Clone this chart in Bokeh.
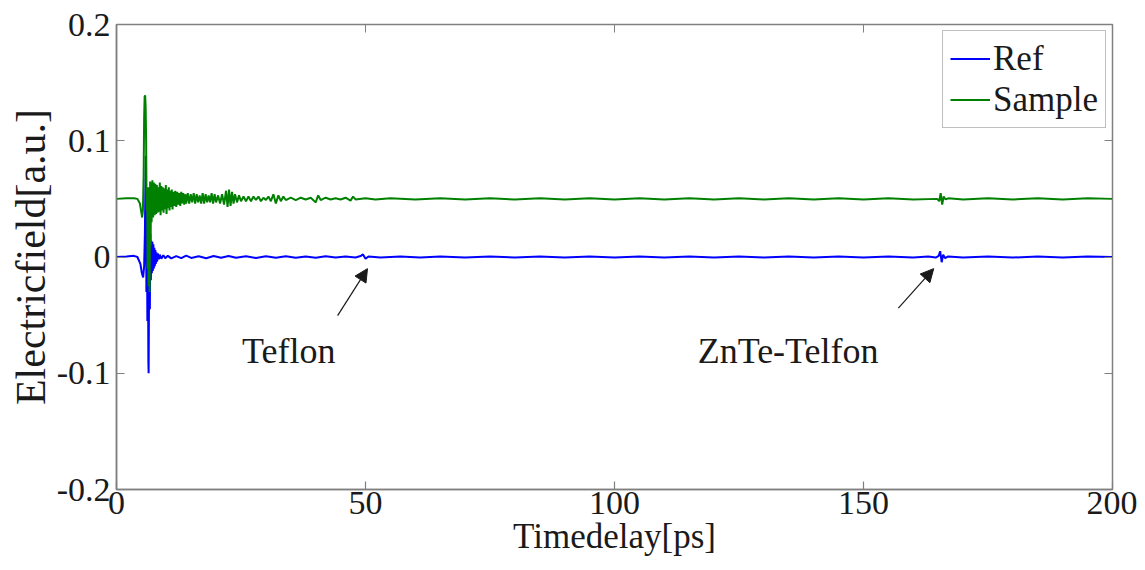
from bokeh.plotting import figure
from bokeh.models import Range1d, LinearAxis, FixedTicker, Label, Arrow, NormalHead
from bokeh.embed import file_html
from bokeh.resources import INLINE

# ---------------- data ----------------
ref_t = [0, 2, 3.5, 4.2, 4.8, 5.1, 5.35, 5.55, 5.7, 5.8, 5.9, 6.0, 6.1, 6.2, 6.3, 6.4, 6.45,
         6.5, 6.6, 6.7, 6.8, 6.9, 7.0, 7.1, 7.2, 7.3, 7.4, 7.5, 7.6, 7.7, 7.8, 7.9, 8.0, 8.15,
         8.3, 8.5, 8.7, 9.0, 9.4, 9.8, 10.3, 11, 12, 13, 14, 15, 16.5, 18, 19.5, 21, 22.5, 24,
         26, 28, 30, 32, 34, 36, 38, 40, 42, 44, 46, 48, 49, 49.5, 50, 50.6, 53, 57, 61, 65,
         70, 75, 80, 85, 90, 95, 100, 105, 110, 115, 120, 125, 130, 135, 140, 145, 150, 155,
         160, 163, 164.5, 165.1, 165.4, 165.7, 166.0, 166.4, 167, 170, 175, 180, 185, 190,
         195, 200]
ref_v = [0.0, 0.0005, 0.001, 0.0, -0.006, -0.014, -0.0175, -0.008, 0.02, 0.06, 0.087, -0.03,
         0.03, -0.055, 0.02, -0.09, -0.1, -0.06, 0.025, -0.045, 0.02, -0.02, 0.014, -0.014,
         0.013, -0.012, 0.011, -0.01, 0.008, -0.008, 0.006, -0.006, 0.004, -0.004, 0.003,
         -0.002, 0.002, -0.0015, 0.0015, -0.001, 0.001, -0.0012, 0.0008, -0.001, 0.0012,
         -0.0008, 0.0006, -0.001, 0.0008, -0.0006, 0.0009, -0.0007, 0.0006, -0.0008, 0.0007,
         -0.0006, 0.0006, -0.0007, 0.0005, -0.0006, 0.0006, -0.0005, 0.0005, -0.0004, 0.0008,
         0.0022, -0.0015, 0.0005, -0.0005, 0.0004, -0.0005, 0.0004, -0.0004, 0.0005, -0.0004,
         0.0004, -0.0005, 0.0004, -0.0004, 0.0005, -0.0004, 0.0004, -0.0005, 0.0004, -0.0004,
         0.0005, -0.0004, 0.0004, -0.0005, 0.0004, -0.0004, 0.0004, -0.0005, 0.001, 0.005,
         -0.0045, 0.002, -0.001, 0.0005, -0.0004, 0.0004, -0.0005, 0.0004, -0.0004, 0.0004,
         0.0]

smp_t = [0, 2, 3.5, 4.2, 4.7, 5.0, 5.15, 5.3, 5.45, 5.55, 5.65, 5.75, 5.85, 5.95, 6.05, 6.15,
         6.25, 6.35, 6.45, 6.55, 6.65, 6.75, 6.85, 6.95, 7.05, 7.2, 7.35, 7.5, 7.65, 7.8, 7.95,
         8.1, 8.25, 8.4, 8.55, 8.7, 8.85, 9.0, 9.15, 9.3, 9.45, 9.6, 9.75, 9.9, 10.05, 10.2,
         10.35, 10.5, 10.65, 10.8, 10.95, 11.1, 11.25, 11.4, 11.6, 11.8, 12.0, 12.2, 12.4,
         12.6, 12.8, 13.0, 13.2, 13.4, 13.6, 13.8, 14.0, 14.3, 14.6, 14.9, 15.2, 15.5, 15.8,
         16.1, 16.4, 16.7, 17.0, 17.3, 17.6, 17.9, 18.2, 18.5, 18.8, 19.1, 19.4, 19.7, 20.0,
         20.4, 20.8, 21.2, 21.6, 22.0, 22.3, 22.6, 22.9, 23.2, 23.5, 23.8, 24.2, 24.6, 25.0,
         25.5, 26.0, 26.5, 27.0, 27.5, 28.0, 28.5, 29.0, 29.5, 30.0, 30.5, 31.0, 31.5, 32.0,
         32.5, 33.0, 33.5, 34, 35, 36, 37, 38, 39, 40, 40.5, 41, 42, 43, 44, 45, 46, 47, 47.5,
         48, 50, 52, 55, 60, 65, 70, 75, 80, 85, 90, 95, 100, 105, 110, 115, 120, 125, 130,
         135, 140, 145, 150, 155, 160, 164.8, 165.2, 165.5, 165.8, 166.1, 166.5, 167, 170,
         175, 180, 185, 190, 195, 200]
smp_v = [0.05, 0.0505, 0.0505, 0.05, 0.046, 0.038, 0.034, 0.04, 0.07, 0.12, 0.138, 0.139,
         0.13, 0.10, 0.04, 0.06, -0.01, 0.055, -0.025, 0.06, -0.03, 0.065, 0.01, 0.064, 0.03,
         0.066, 0.034, 0.064, 0.036, 0.063, 0.037, 0.062, 0.038, 0.06, 0.039, 0.064, 0.036,
         0.061, 0.04, 0.06, 0.038, 0.059, 0.041, 0.062, 0.037, 0.058, 0.042, 0.06, 0.04,
         0.057, 0.043, 0.058, 0.041, 0.056, 0.044, 0.057, 0.043, 0.056, 0.045, 0.055, 0.044,
         0.056, 0.046, 0.055, 0.045, 0.054, 0.046, 0.055, 0.046, 0.054, 0.047, 0.055, 0.046,
         0.054, 0.047, 0.053, 0.046, 0.055, 0.046, 0.054, 0.047, 0.053, 0.047, 0.055, 0.046,
         0.054, 0.047, 0.053, 0.046, 0.054, 0.045, 0.057, 0.043, 0.058, 0.044, 0.056, 0.046,
         0.054, 0.047, 0.053, 0.048, 0.052, 0.048, 0.052, 0.048, 0.052, 0.049, 0.052, 0.048,
         0.051, 0.049, 0.052, 0.048, 0.054, 0.046, 0.053, 0.048, 0.052, 0.049, 0.051, 0.049,
         0.051, 0.0495, 0.051, 0.047, 0.053, 0.049, 0.051, 0.0495, 0.0505, 0.0495, 0.051,
         0.0485, 0.052, 0.0495, 0.0505, 0.0495, 0.0505, 0.0495, 0.0505, 0.0495, 0.0505,
         0.0495, 0.0505, 0.0495, 0.0505, 0.0495, 0.0505, 0.0495, 0.0505, 0.0495, 0.0505,
         0.0495, 0.0505, 0.0495, 0.0505, 0.0495, 0.0505, 0.0495, 0.05, 0.048, 0.055, 0.045,
         0.052, 0.0495, 0.0505, 0.0495, 0.0505, 0.0495, 0.0505, 0.0495, 0.0505, 0.05]

x_ticks = [0, 50, 100, 150, 200]
y_ticks = [-0.2, -0.1, 0, 0.1, 0.2]
y_tick_labels = ["-0.2", "-0.1", "0", "0.1", "0.2"]

FONT = "Liberation Serif"
GRAY = "#808080"
INK = "#1a1a1a"

p = figure(frame_width=996, frame_height=465, x_range=Range1d(0, 200),
           y_range=Range1d(-0.2, 0.2),
           output_backend="svg", toolbar_location=None,
           min_border_left=116, min_border_right=25, min_border_top=24, min_border_bottom=70,
           background_fill_color="white", border_fill_color="white")
p.grid.visible = False
p.outline_line_color = GRAY
p.outline_line_width = 1.5

p.line(ref_t, ref_v, color="#0000FF", line_width=2, legend_label="Ref")
p.line(smp_t, smp_v, color="#008000", line_width=2, legend_label="Sample")

for ax in (p.xaxis[0], p.yaxis[0]):
    ax.axis_line_color = GRAY
    ax.axis_line_width = 1.5
    ax.major_tick_line_color = GRAY
    ax.major_tick_line_width = 1.2
    ax.major_tick_in = 8
    ax.major_tick_out = 0
    ax.minor_tick_line_color = None
    ax.major_label_text_font = FONT
    ax.major_label_text_font_size = "34px"
    ax.major_label_text_color = INK
    ax.axis_label_text_font = FONT
    ax.axis_label_text_font_style = "normal"
    ax.axis_label_text_color = INK
    ax.axis_label_standoff = 0

p.xaxis[0].ticker = FixedTicker(ticks=x_ticks)
p.xaxis[0].major_label_standoff = 2
p.xaxis[0].axis_label = "Timedelay[ps]"
p.xaxis[0].axis_label_text_font_size = "35px"

p.yaxis[0].ticker = FixedTicker(ticks=y_ticks)
p.yaxis[0].major_label_standoff = 6
p.yaxis[0].major_label_overrides = {v: s for v, s in zip(y_ticks, y_tick_labels)}
p.yaxis[0].axis_label = "Electricfield[a.u.]"
p.yaxis[0].axis_label_text_font_size = "42px"

# box ticks on top and right
for loc in ("above", "right"):
    ax = LinearAxis(ticker=FixedTicker(ticks=x_ticks if loc == "above" else y_ticks))
    ax.axis_line_color = GRAY
    ax.major_tick_line_color = GRAY
    ax.major_tick_in = 8
    ax.major_tick_out = 0
    ax.minor_tick_line_color = None
    ax.major_label_text_font_size = "0px"
    ax.major_label_standoff = 0
    p.add_layout(ax, loc)

# annotations
p.add_layout(Label(x=25.2, y=-0.0806, text="Teflon", text_font=FONT, text_font_size="36px",
                   text_baseline="alphabetic", text_color=INK))
p.add_layout(Label(x=116.7, y=-0.0806, text="ZnTe-Telfon", text_font=FONT,
                   text_font_size="36px", text_baseline="alphabetic", text_color=INK))
p.add_layout(Arrow(end=NormalHead(size=13, fill_color=INK, line_color=INK),
                   x_start=44.4, y_start=-0.0504, x_end=50.4, y_end=-0.010,
                   line_color=INK, line_width=1.2))
p.add_layout(Arrow(end=NormalHead(size=13, fill_color=INK, line_color=INK),
                   x_start=157.0, y_start=-0.044, x_end=164.1, y_end=-0.010,
                   line_color=INK, line_width=1.2))

lg = p.legend[0]
lg.location = "top_right"
lg.margin = 6
lg.padding = 7
lg.spacing = 0
lg.glyph_width = 40
lg.glyph_height = 41
lg.label_height = 41
lg.label_standoff = 3
lg.label_text_font = FONT
lg.label_text_font_size = "35px"
lg.label_text_color = INK
lg.border_line_color = GRAY
lg.border_line_width = 1.5
lg.background_fill_color = "white"
lg.background_fill_alpha = 1.0

open("out.html", "w").write(file_html(p, INLINE))
